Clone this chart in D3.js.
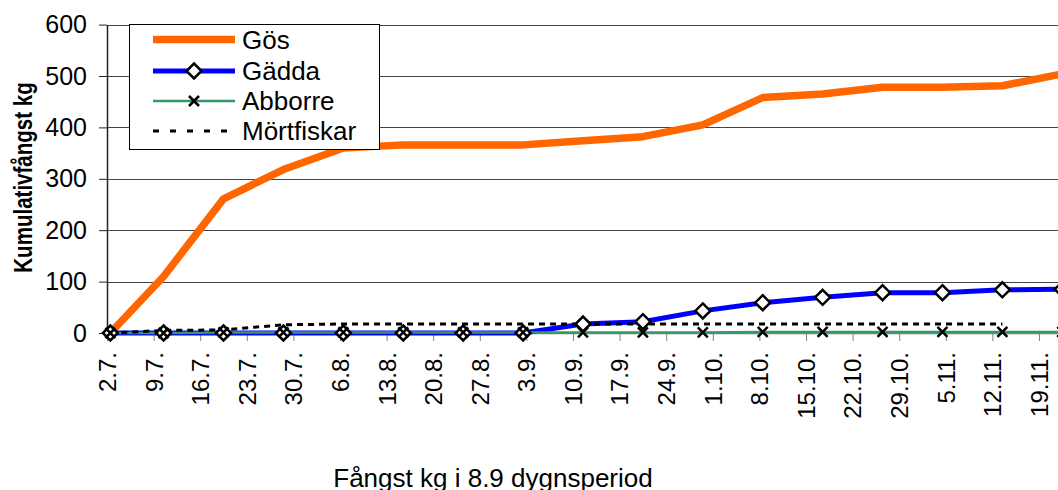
<!DOCTYPE html>
<html>
<head>
<meta charset="utf-8">
<script src="https://cdn.jsdelivr.net/npm/d3@7"></script>
<style>
  html, body { margin: 0; padding: 0; background: #fff; }
  svg { display: block; font-family: "Liberation Sans", Arial, sans-serif; }
</style>
</head>
<body>
<svg id="chart" width="1058" height="490"></svg>
<script>
// Catch dates (day.month.) — each point closes an ~8.9 day fishing period
const catchDates = ["2.7.", "10.7.", "19.7.", "28.7.", "6.8.", "15.8.", "24.8.", "2.9.", "11.9.",
  "20.9.", "29.9.", "8.10.", "17.10.", "26.10.", "4.11.", "13.11.", "22.11."];

// Cumulative catch in kg per species
const gos        = [0, 110, 261, 318, 360, 366, 366, 366, 374, 382, 405, 458, 465, 478, 478, 481, 504];
const gadda      = [0, 0, 0, 0, 0, 0, 0, 0, 17.5, 22, 43, 59, 69.5, 78.5, 78.5, 84, 85];
const abborre    = [0, 0, 1, 1, 1, 1, 1, 1, 1, 1, 1, 2, 2, 2, 2, 2, 2];
const mortfiskar = [0, 5, 6, 16, 17.5, 17.5, 17.5, 17.5, 17.5, 17.5, 17.5, 17.5, 17.5, 17.5, 17.5, 17.5];

const seriesNames = ["Gös", "Gädda", "Abborre", "Mörtfiskar"];

// Weekly tick labels on the date axis
const xTickLabels = ["2.7.", "9.7.", "16.7.", "23.7.", "30.7.", "6.8.", "13.8.", "20.8.", "27.8.",
  "3.9.", "10.9.", "17.9.", "24.9.", "1.10.", "8.10.", "15.10.", "22.10.", "29.10.", "5.11.",
  "12.11.", "19.11."];
const yTicks = [0, 100, 200, 300, 400, 500, 600];

const yTitle = "Kumulativfångst kg";
const xTitle = "Fångst kg i 8.9 dygnsperiod";

const parseDay = s => d3.utcParse("%d.%m.%Y")(s + "2001");
const halfDay = 12 * 3600 * 1000;   // points sit in the middle of their day slot

const svg = d3.select("#chart");
svg.append("rect").attr("width", 1058).attr("height", 490).attr("fill", "#fff");

const plotLeft = 107, plotTop = 24.6, plotBottom = 333;
const x = d3.scaleUtc()
  .domain([parseDay("2.7."), parseDay("24.11.")])
  .range([plotLeft, plotLeft + 145 * 6.657]);
const y = d3.scaleLinear().domain([0, 600]).range([plotBottom, plotTop]);

const xd = s => x(new Date(parseDay(s).getTime() + halfDay));

// Horizontal gridlines
svg.append("g").selectAll("line").data(yTicks.filter(v => v > 0)).join("line")
  .attr("x1", plotLeft).attr("x2", 1058)
  .attr("y1", d => Math.round(y(d)) + 0.5).attr("y2", d => Math.round(y(d)) + 0.5)
  .attr("stroke", "#444").attr("stroke-width", 1);

// Y axis
const yAxis = svg.append("g").attr("transform", `translate(${plotLeft},0)`)
  .call(d3.axisLeft(y).tickValues(yTicks).tickSize(8).tickSizeOuter(0).tickPadding(12));
yAxis.select(".domain").attr("stroke", "#222").attr("stroke-width", 1.5);
yAxis.selectAll(".tick line").attr("stroke", "#222");
yAxis.selectAll("text").attr("font-size", 25).attr("fill", "#000").attr("font-family", "Liberation Sans, Arial, sans-serif");

// X axis (date axis with weekly ticks)
const tickDates = xTickLabels.map(parseDay);
const xAxis = svg.append("g").attr("transform", `translate(0,${plotBottom})`)
  .call(d3.axisBottom(x).tickValues(tickDates).tickFormat((d, i) => xTickLabels[i])
    .tickSize(8).tickSizeOuter(0));
xAxis.select(".domain").attr("stroke", "#808080").attr("stroke-width", 1.5);
xAxis.selectAll(".tick line").attr("stroke", "#808080");
xAxis.selectAll("text")
  .attr("font-size", 24).attr("fill", "#000").attr("font-family", "Liberation Sans, Arial, sans-serif")
  .attr("transform", "rotate(-90)").attr("text-anchor", "end")
  .attr("x", -19).attr("y", 0).attr("dy", "0.35em");

// Series lines
const line = d3.line().x((d, i) => xd(catchDates[i])).y(d => y(d));

svg.append("path").datum(gos).attr("d", line)
  .attr("fill", "none").attr("stroke", "#FF6600").attr("stroke-width", 7.5).attr("stroke-linejoin", "bevel");

svg.append("path").datum(gadda).attr("d", line)
  .attr("fill", "none").attr("stroke", "#0000FF").attr("stroke-width", 5);

svg.append("path").datum(abborre).attr("d", line)
  .attr("fill", "none").attr("stroke", "#339966").attr("stroke-width", 2.5);

svg.append("path").datum(mortfiskar).attr("d", line)
  .attr("fill", "none").attr("stroke", "#000").attr("stroke-width", 3).attr("stroke-dasharray", "6,5");

// Markers
const diamond = (cx, cy, r) => `M${cx},${cy - r}L${cx + r},${cy}L${cx},${cy + r}L${cx - r},${cy}Z`;
const cross = (cx, cy, r) => `M${cx - r},${cy - r}L${cx + r},${cy + r}M${cx + r},${cy - r}L${cx - r},${cy + r}`;

svg.append("g").selectAll("path").data(gadda).join("path")
  .attr("d", (d, i) => diamond(xd(catchDates[i]), y(d), 7.5))
  .attr("fill", "#fff").attr("stroke", "#000").attr("stroke-width", 2.5);

svg.append("g").selectAll("path").data(abborre).join("path")
  .attr("d", (d, i) => cross(xd(catchDates[i]), y(d), 5))
  .attr("fill", "none").attr("stroke", "#000").attr("stroke-width", 2.5);

// Legend
const lg = svg.append("g");
lg.append("rect").attr("x", 129.5).attr("y", 24.5).attr("width", 250).attr("height", 125)
  .attr("fill", "#fff").attr("stroke", "#000").attr("stroke-width", 1);
const rowY = [39.5, 71, 101, 131];
const x1 = 153, x2 = 235, xm = (x1 + x2) / 2;
lg.append("line").attr("x1", x1).attr("x2", x2).attr("y1", rowY[0]).attr("y2", rowY[0])
  .attr("stroke", "#FF6600").attr("stroke-width", 7.5);
lg.append("line").attr("x1", x1).attr("x2", x2).attr("y1", rowY[1]).attr("y2", rowY[1])
  .attr("stroke", "#0000FF").attr("stroke-width", 5);
lg.append("path").attr("d", diamond(xm, rowY[1], 7.5)).attr("fill", "#fff").attr("stroke", "#000").attr("stroke-width", 2.5);
lg.append("line").attr("x1", x1).attr("x2", x2).attr("y1", rowY[2]).attr("y2", rowY[2])
  .attr("stroke", "#339966").attr("stroke-width", 2.5);
lg.append("path").attr("d", cross(xm, rowY[2], 5)).attr("fill", "none").attr("stroke", "#000").attr("stroke-width", 2.5);
lg.append("line").attr("x1", x1).attr("x2", x2).attr("y1", rowY[3]).attr("y2", rowY[3])
  .attr("stroke", "#000").attr("stroke-width", 3).attr("stroke-dasharray", "6,11");
lg.selectAll("text").data(seriesNames).join("text")
  .attr("x", 242).attr("y", (d, i) => rowY[i] + 9)
  .attr("font-size", 26).attr("fill", "#000").text(d => d);

// Axis titles (the vertical one is set in a condensed bold face)
svg.append("text").attr("transform", "translate(32,177.5) rotate(-90) scale(0.775,1)")
  .attr("text-anchor", "middle").attr("font-size", 26.5).attr("font-weight", "bold").text(yTitle);
svg.append("text").attr("x", 493).attr("y", 487)
  .attr("text-anchor", "middle").attr("font-size", 26).text(xTitle);
</script>
</body>
</html>
